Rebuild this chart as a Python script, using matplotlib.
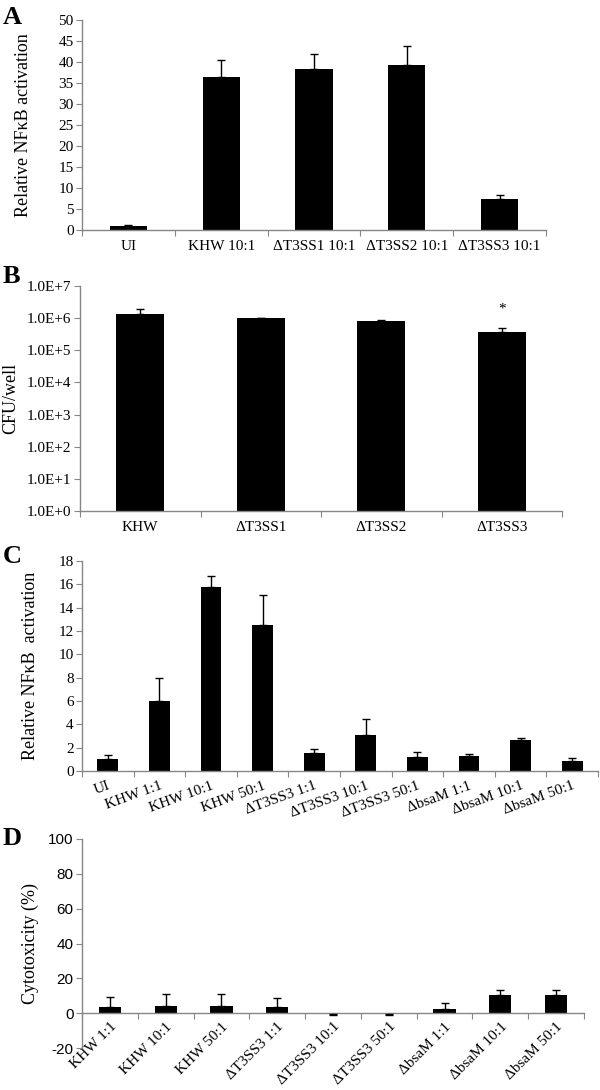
import matplotlib
matplotlib.use('Agg')
import matplotlib.pyplot as plt
import numpy as np

plt.rcParams['font.family'] = ['Liberation Serif', 'DejaVu Serif']
plt.rcParams['axes.unicode_minus'] = False

# panel A
a_cats = ['UI', 'KHW 10:1', '\u0394T3SS1 10:1', '\u0394T3SS2 10:1', '\u0394T3SS3 10:1']
a_vals = [1.0, 36.5, 38.4, 39.4, 7.5]
a_err = [0.2, 4.0, 3.6, 4.4, 0.9]

# panel B
b_cats = ['KHW', '\u0394T3SS1', '\u0394T3SS2', '\u0394T3SS3']
b_vals = [1.3e6, 1.0e6, 8.3e5, 3.6e5]
b_err = [5.8e5, 0.2e5, 0.6e5, 1.2e5]

# panel C
c_cats = ['UI', 'KHW 1:1', 'KHW 10:1', 'KHW 50:1', '\u0394T3SS3 1:1', '\u0394T3SS3 10:1',
          '\u0394T3SS3 50:1', '\u0394bsaM 1:1', '\u0394bsaM 10:1', '\u0394bsaM 50:1']
c_vals = [1.05, 6.0, 15.8, 12.5, 1.55, 3.05, 1.2, 1.3, 2.7, 0.87]
c_err = [0.3, 2.0, 0.95, 2.55, 0.3, 1.4, 0.4, 0.2, 0.17, 0.23]

# panel D
d_cats = ['KHW 1:1', 'KHW 10:1', 'KHW 50:1', '\u0394T3SS3 1:1', '\u0394T3SS3 10:1',
          '\u0394T3SS3 50:1', '\u0394bsaM 1:1', '\u0394bsaM 10:1', '\u0394bsaM 50:1']
d_vals = [3.8, 4.0, 4.0, 3.3, -0.5, -0.5, 2.5, 10.5, 10.5]
d_err = [5.2, 7.1, 7.1, 5.2, 0.8, 0.8, 3.6, 2.9, 2.9]

W, H = 600, 1090
fig = plt.figure(figsize=(W / 100, H / 100), dpi=100)
GRAY = '#868686'
FS = 11


def make_ax(l, r, t, b):
    return fig.add_axes([l / W, 1 - b / H, (r - l) / W, (b - t) / H])


def style(ax, n):
    for s in ['top', 'right']:
        ax.spines[s].set_visible(False)
    for s in ['left', 'bottom']:
        ax.spines[s].set_color(GRAY)
        ax.spines[s].set_linewidth(1)
    ax.set_xlim(-0.5, n - 0.5)
    ax.set_xticks(np.arange(n + 1) - 0.5)
    ax.set_xticklabels([])
    ax.set_xticks(np.arange(n), minor=True)
    ax.tick_params(axis='x', which='major', direction='out', length=4, color=GRAY)
    ax.tick_params(axis='x', which='minor', length=0)
    ax.tick_params(axis='y', direction='out', length=4, color=GRAY, labelsize=FS, pad=2)


def bars(ax, vals, err):
    x = np.arange(len(vals))
    ax.bar(x, vals, width=0.4, color='black', zorder=2)
    lo = [e if v < 0 else 0 for v, e in zip(vals, err)]
    hi = [0 if v < 0 else e for v, e in zip(vals, err)]
    ax.errorbar(x, vals, yerr=[lo, hi], fmt='none', ecolor='black', elinewidth=1,
                capsize=3, capthick=1, zorder=3)


# A
axA = make_ax(82, 546, 20, 230)
bars(axA, a_vals, a_err)
style(axA, len(a_cats))
axA.set_ylim(0, 50)
axA.set_yticks(np.arange(0, 51, 5))
axA.set_xticklabels(a_cats, minor=True, fontsize=FS)
axA.tick_params(axis='x', which='minor', pad=7)

# B
axB = make_ax(80, 562, 286, 511)
axB.set_yscale('log')
bars(axB, b_vals, b_err)
style(axB, len(b_cats))
axB.set_ylim(1, 1e7)
axB.set_yticks([10.0 ** k for k in range(8)])
axB.set_yticklabels(['1.0E+%d' % k for k in range(8)])
axB.yaxis.set_minor_locator(matplotlib.ticker.NullLocator())
axB.set_xticklabels(b_cats, minor=True, fontsize=FS)
axB.tick_params(axis='x', which='minor', pad=7)
axB.text(3, 1.9e6, '*', ha='center', va='center', fontsize=FS)

# C
axC = make_ax(82, 598, 561, 771)
bars(axC, c_vals, c_err)
style(axC, len(c_cats))
axC.set_ylim(0, 18)
axC.set_yticks(np.arange(0, 19, 2))
axC.set_xticklabels(c_cats, minor=True, fontsize=FS, rotation=20, ha='right',
                    rotation_mode='anchor')
axC.tick_params(axis='x', which='minor', pad=6)

# D
axD = make_ax(82, 584, 839, 1048)
bars(axD, d_vals, d_err)
style(axD, len(d_cats))
axD.spines['bottom'].set_position(('data', 0))
axD.set_ylim(-20, 100)
axD.set_yticks(np.arange(-20, 101, 20))
for lab in axD.get_yticklabels():
    lab.set_fontfamily('Liberation Sans')
axD.set_xticklabels(d_cats, minor=True, fontsize=FS, rotation=45, ha='right',
                    rotation_mode='anchor')
axD.tick_params(axis='x', which='minor', pad=5)

# y labels
fig.text(24 / W, 1 - 125 / H, 'Relative NF\u03baB activation', rotation=90,
         ha='center', va='center', fontsize=13)
fig.text(11 / W, 1 - 398 / H, 'CFU/well', rotation=90,
         ha='center', va='center', fontsize=13)
fig.text(31 / W, 1 - 666 / H, 'Relative NF\u03baB  activation', rotation=90,
         ha='center', va='center', fontsize=13)
fig.text(30 / W, 1 - 944 / H, 'Cytotoxicity (%)', rotation=90,
         ha='center', va='center', fontsize=13)

# panel letters
for letter, yb in [('A', 24), ('B', 283), ('C', 563), ('D', 845)]:
    fig.text(3 / W, 1 - yb / H, letter, fontsize=19, fontweight='bold',
             ha='left', va='baseline')

fig.savefig('out.png', dpi=100)
